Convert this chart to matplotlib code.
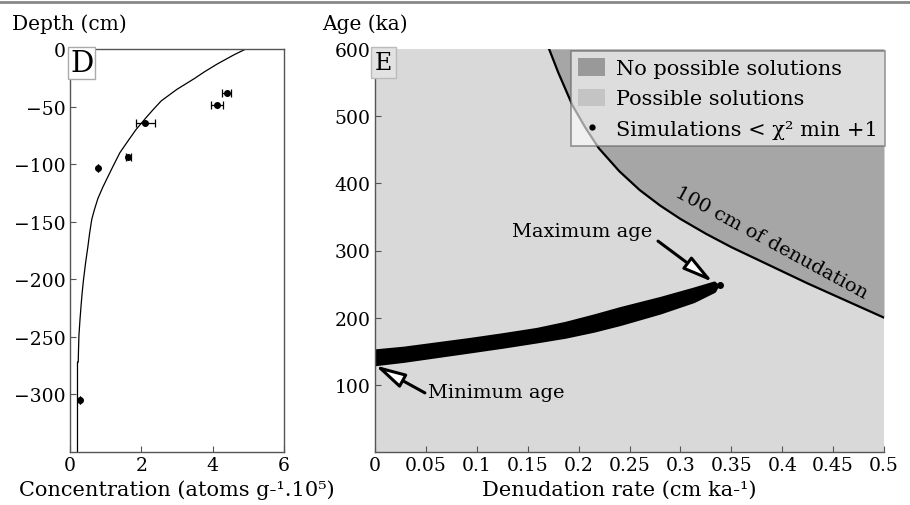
import numpy as np
import matplotlib
matplotlib.use("Agg")
import matplotlib.pyplot as plt
from matplotlib.patches import Patch
from matplotlib.lines import Line2D

plt.rcParams['font.family'] = ['DejaVu Serif']
plt.rcParams['font.size'] = 13

# --- panel D: concentration profile ---
sample_conc = [4.39, 4.13, 2.11, 1.64, 0.78, 0.29]
sample_depth = [-38, -49, -64.5, -94, -103, -305]
sample_err = [0.13, 0.17, 0.26, 0.08, 0.0, 0.0]

model_depth = [0, -5, -13, -20, -26, -35, -45, -52, -59, -70, -81, -90, -101, -113,
               -120, -130, -140, -148, -160, -172, -185, -200, -212, -223, -235,
               -249, -260, -272, -272, -350]
model_conc = [4.93, 4.60, 4.13, 3.76, 3.47, 3.00, 2.56, 2.35, 2.15, 1.85, 1.60, 1.40,
              1.22, 1.03, 0.92, 0.78, 0.68, 0.61, 0.55, 0.50, 0.44, 0.38, 0.34, 0.31,
              0.28, 0.25, 0.24, 0.23, 0.21, 0.21]

# --- panel E: denudation rate vs age ---
limit_rate = [0.171, 0.18, 0.194, 0.207, 0.22, 0.24, 0.26, 0.28, 0.30, 0.325, 0.35,
              0.375, 0.40, 0.425, 0.45, 0.475, 0.5]
limit_age = [600, 565, 516, 482, 452, 418, 390, 367, 347, 325, 305, 287, 269, 251,
             234, 217, 200]

band_rate = [0, 0.028, 0.093, 0.125, 0.159, 0.187, 0.215, 0.241, 0.280, 0.313, 0.333, 0.336]
band_upper = [151, 155, 168, 175, 183, 192, 203, 214, 229, 243, 252, 248]
band_lower = [131, 136, 150, 157, 165, 172, 181, 191, 208, 225, 240, 248]
max_point = (0.339, 248)

W, H = 910, 506
fig = plt.figure(figsize=(W / 100, H / 100), dpi=100)
fig.add_artist(Line2D([0, 1], [1 - 3 / H, 1 - 3 / H], color='#888888', lw=2,
                      transform=fig.transFigure))

spine_c = '#555555'

# panel D
axd = fig.add_axes([70 / W, 1 - 453 / H, 214 / W, 403 / H])
axd.plot(model_conc, model_depth, color='black', lw=0.9)
axd.errorbar(sample_conc, sample_depth, xerr=sample_err, fmt='o', color='black',
             ms=4, elinewidth=0.9, capsize=3, capthick=0.9)
axd.set_xlim(0, 6)
axd.set_ylim(-350, 0)
axd.set_xticks([0, 2, 4, 6])
axd.set_yticks([0, -50, -100, -150, -200, -250, -300])
for s in axd.spines.values():
    s.set_color(spine_c)
    s.set_linewidth(1)
axd.tick_params(direction='in', length=4, color=spine_c, pad=3, labelsize=13.5)
axd.text(0.0, 1.0, 'D', transform=axd.transAxes, ha='left', va='top', fontsize=21,
         bbox=dict(facecolor='white', edgecolor='#aaaaaa', pad=1.5, lw=1))

# panel E
axe = fig.add_axes([375 / W, 1 - 453 / H, 509 / W, 403 / H])
axe.set_facecolor('#d9d9d9')
axe.fill_between(limit_rate, limit_age, 600, color='#a6a6a6', lw=0)
axe.plot(limit_rate, limit_age, color='black', lw=1.6)
axe.fill_between(band_rate, band_lower, band_upper, color='black', lw=2.5,
                 edgecolor='black', joinstyle='round', capstyle='round')
axe.plot(*max_point, 'o', color='black', ms=4)
axe.set_xlim(0, 0.5)
axe.set_ylim(0, 600)
xt = [0, 0.05, 0.1, 0.15, 0.2, 0.25, 0.3, 0.35, 0.4, 0.45, 0.5]
axe.set_xticks(xt)
axe.set_xticklabels([('%g' % v) for v in xt])
axe.set_yticks([100, 200, 300, 400, 500, 600])
for side in ['top', 'right']:
    axe.spines[side].set_visible(False)
for side in ['left', 'bottom']:
    axe.spines[side].set_color(spine_c)
    axe.spines[side].set_linewidth(1)
axe.tick_params(direction='in', length=4, color=spine_c, pad=3, labelsize=13.5)

axe.text(0.0, 0.995, 'E', transform=axe.transAxes, ha='left', va='top', fontsize=17,
         bbox=dict(facecolor='#e2e2e2', edgecolor='#bbbbbb', pad=2.5, lw=1))

axe.text(0.385, 300, '100 cm of denudation', rotation=-28.5, ha='center', va='bottom',
         rotation_mode='anchor', fontsize=14)

arrow = dict(arrowstyle='-|>,head_length=1.4,head_width=0.35', fc='white', ec='black',
             lw=2.2, shrinkA=0, shrinkB=0)
axe.annotate('', xy=(0.332, 253), xytext=(0.278, 314), arrowprops=arrow)
axe.text(0.272, 329, 'Maximum age', ha='right', va='center', fontsize=14)
axe.annotate('', xy=(0.0, 129), xytext=(0.049, 88), arrowprops=arrow)
axe.text(0.052, 89, 'Minimum age', ha='left', va='center', fontsize=14)

handles = [Patch(facecolor='#999999', edgecolor='none', label='No possible solutions'),
           Patch(facecolor='#c4c4c4', edgecolor='none', label='Possible solutions'),
           Line2D([], [], marker='.', color='black', ls='none', ms=7,
                  label='Simulations < χ² min +1')]
leg = axe.legend(handles=handles, loc='upper right', bbox_to_anchor=(1.002, 0.995),
                 fancybox=False, framealpha=0.62, facecolor='white', edgecolor='#666666',
                 fontsize=15, borderaxespad=0, handlelength=1.3, handleheight=0.9,
                 handletextpad=0.5, labelspacing=0.5, borderpad=0.35)
leg.get_frame().set_linewidth(1.3)

fig.text(12 / W, 1 - 30 / H, 'Depth (cm)', ha='left', va='baseline', fontsize=14.5)
fig.text(322 / W, 1 - 30 / H, 'Age (ka)', ha='left', va='baseline', fontsize=14.5)
fig.text(177 / W, 1 - 490 / H, 'Concentration (atoms g-¹.10⁵)', ha='center',
         va='center', fontsize=15)
fig.text(619 / W, 1 - 490 / H, 'Denudation rate (cm ka-¹)', ha='center',
         va='center', fontsize=15)

fig.savefig('out.png', dpi=100)
